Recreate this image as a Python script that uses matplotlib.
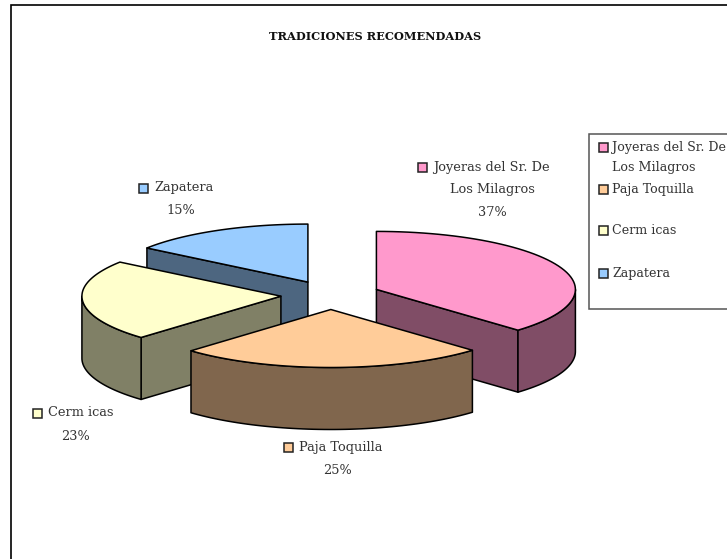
import numpy as np
import matplotlib
matplotlib.use("Agg")
import matplotlib.pyplot as plt
from matplotlib.patches import Polygon, Rectangle

plt.rcParams["font.family"] = "DejaVu Serif"

title = "TRADICIONES RECOMENDADAS"
labels = ["Joyeras del Sr. De\nLos Milagros", "Paja Toquilla", "Cerm icas", "Zapatera"]
values = [37.4, 25.0, 22.6, 15.0]
colours = ["#FF99CC", "#FFCC99", "#FFFFCC", "#99CCFF"]
walls = ["#804D66", "#80664D", "#808066", "#4D6680"]

# ellipse of the tilted pie, in pixels
cx, cy = 330.5, 295
rx, ry = 199, 58
depth = 62
explode = 0.25
text_col = "#333333"
fs = 9.3
leg_fs = 9.1

fig = plt.figure(figsize=(7.27, 5.59), dpi=100)
ax = fig.add_axes([0, 0, 1, 1])
ax.set_xlim(0, 727)
ax.set_ylim(559, 0)
ax.axis("off")


def pt(ang, r=1.0):
    # angle in degrees clockwise from north
    a = np.radians(ang)
    return np.array([r * rx * np.sin(a), -r * ry * np.cos(a)])


def arc(a0, a1):
    t = np.linspace(a0, a1, 60)
    return np.array([pt(x) for x in t])


fracs = np.array(values) / sum(values)
starts = np.concatenate([[0], np.cumsum(fracs)[:-1]]) * 360
ends = np.cumsum(fracs) * 360


def draw_slice(i):
    a0, a1 = starts[i], ends[i]
    apex = np.array([cx, cy]) + pt((a0 + a1) / 2, explode)
    down = np.array([0, depth])
    lw = 1.1
    # only the cuts that face the viewer
    cuts = []
    if a0 > 180:
        cuts.append(a0)
    if a1 < 180:
        cuts.append(a1)
    for a in cuts:
        p = apex + pt(a)
        ax.add_patch(Polygon([apex, p, p + down, apex + down], fc=walls[i], ec="black", lw=lw, joinstyle="round"))
    lo, hi = max(a0, 90), min(a1, 270)
    if hi > lo:
        front = apex + arc(lo, hi)
        ax.add_patch(Polygon(np.vstack([front, (front + down)[::-1]]), fc=walls[i], ec="black", lw=lw, joinstyle="round"))
    top = np.vstack([[apex], apex + arc(a0, a1)])
    ax.add_patch(Polygon(top, fc=colours[i], ec="black", lw=lw, joinstyle="round"))


for i in [3, 2, 0, 1]:
    draw_slice(i)


def marker(x, y, col):
    ax.add_patch(Rectangle((x, y - 4.5), 9, 9, fc=col, ec="#222222", lw=1.1))


# outer frame of the chart, runs off the right and bottom of the picture
ax.plot([11, 11, 727], [559, 5, 5], color="black", lw=1.2, solid_joinstyle="miter")

ax.text(375, 37, title, fontsize=8.2, fontweight="bold", ha="center", va="center", color="#111111")

# data labels
lab_pos = [(418, 167, 492), (284, 447, 337), (33, 413, 76), (139, 188, 181)]
line_h = 23
for i, (mx, my, mid) in enumerate(lab_pos):
    parts = labels[i].split("\n")
    marker(mx, my, colours[i])
    ax.text(mx + 15, my, parts[0], fontsize=fs, ha="left", va="center", color=text_col)
    y = my
    for extra in parts[1:]:
        y += line_h
        ax.text(mid, y, extra, fontsize=fs, ha="center", va="center", color=text_col)
    ax.text(mid, y + line_h, f"{values[i]:.0f}%", fontsize=fs, ha="center", va="center", color=text_col)

# legend box
ax.plot([727, 589, 589, 727], [134, 134, 309, 309], color="#555555", lw=1.1, solid_joinstyle="miter")
leg_y = [147, 189, 230, 273]
for i in range(4):
    parts = labels[i].split("\n")
    marker(599, leg_y[i], colours[i])
    ax.text(612, leg_y[i], parts[0], fontsize=leg_fs, ha="left", va="center", color=text_col)
    if len(parts) > 1:
        ax.text(612, leg_y[i] + 21, parts[1], fontsize=leg_fs, ha="left", va="center", color=text_col)

fig.savefig("out.png", dpi=100)
